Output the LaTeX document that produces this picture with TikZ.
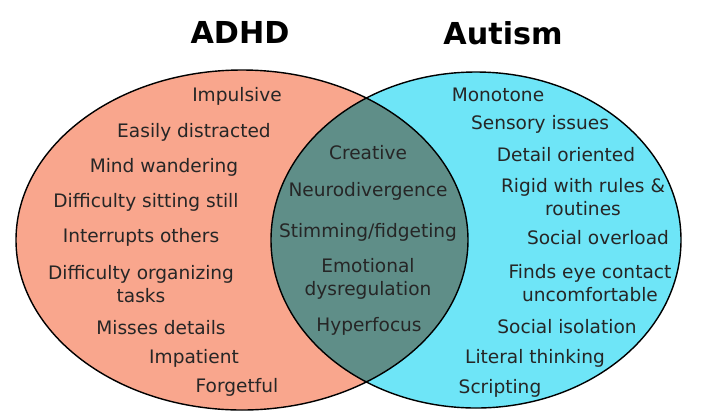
\documentclass[tikz,border=0pt]{standalone}
\usepackage{fontspec}
\setmainfont{DejaVu Sans}
\definecolor{adhdcol}{HTML}{F9A68D}
\definecolor{autcol}{HTML}{6EE5F7}
\definecolor{bothcol}{HTML}{5F8E88}
\definecolor{inkcol}{HTML}{262626}

\begin{document}
\begin{tikzpicture}[x=0.025cm, y=-0.025cm, line width=1pt,
        item/.style={text=inkcol, font=\fontsize{13.2}{16.5}\selectfont, inner sep=0pt, align=center},
        head/.style={text=black, font=\fontsize{21.5}{24}\selectfont\bfseries, inner sep=0pt}]
        \useasboundingbox (0,0) rectangle (712,410);

        % circles
        \fill[adhdcol] (242,240) ellipse [x radius=226, y radius=170];
        \fill[autcol] (476,240) ellipse [x radius=205, y radius=168];
        \begin{scope}
            \clip (242,240) ellipse [x radius=226, y radius=170];
            \fill[bothcol] (476,240) ellipse [x radius=205, y radius=168];
        \end{scope}
        \draw (242,240) ellipse [x radius=226, y radius=170];
        \draw (476,240) ellipse [x radius=205, y radius=168];

        \node[head] (adhd) at (240, 32) {ADHD};
        \node[head] (autism) at (503, 33) {Autism};

        % ADHD only
        \node[item] (impulsive) at (237, 96) {Impulsive};
        \node[item] (distracted) at (194, 132) {Easily distracted};
        \node[item] (wandering) at (164, 167) {Mind wandering};
        \node[item] (sitting) at (146, 202) {Difficulty sitting still};
        \node[item] (interrupts) at (141, 237) {Interrupts others};
        \node[item] (organizing) at (141, 284) {Difficulty organizing\\tasks};
        \node[item] (details) at (161, 328) {Misses details};
        \node[item] (impatient) at (194, 358) {Impatient};
        \node[item] (forgetful) at (237, 387) {Forgetful};

        % both
        \node[item] (creative) at (368, 153) {Creative};
        \node[item] (neuro) at (368, 191) {Neurodivergence};
        \node[item] (stimming) at (368, 232) {Stimming/fidgeting};
        \node[item] (emotional) at (368, 279) {Emotional\\dysregulation};
        \node[item] (hyperfocus) at (369, 326) {Hyperfocus};

        % autism only
        \node[item] (monotone) at (498, 95) {Monotone};
        \node[item] (sensory) at (540, 124) {Sensory issues};
        \node[item] (oriented) at (566, 155) {Detail oriented};
        \node[item] (rigid) at (583, 197) {Rigid with rules \&\\routines};
        \node[item] (overload) at (598, 238) {Social overload};
        \node[item] (eyecontact) at (590, 283) {Finds eye contact\\uncomfortable};
        \node[item] (isolation) at (567, 327) {Social isolation};
        \node[item] (literal) at (535, 358) {Literal thinking};
        \node[item] (scripting) at (500, 388) {Scripting};
    \end{tikzpicture}
\end{document}
